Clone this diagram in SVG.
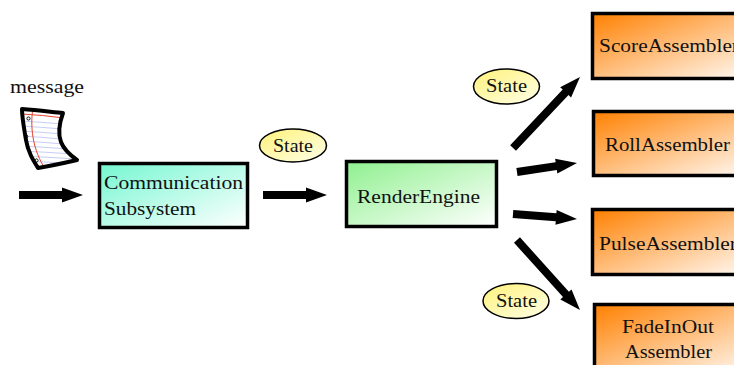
<svg xmlns="http://www.w3.org/2000/svg" width="734" height="365" viewBox="0 0 734 365">
  <defs>
    <linearGradient id="gAqua" x1="0" y1="0" x2="1" y2="1">
      <stop offset="0" stop-color="#74f7d0"/>
      <stop offset="1" stop-color="#ffffff"/>
    </linearGradient>
    <linearGradient id="gGreen" x1="0" y1="0" x2="1" y2="1">
      <stop offset="0" stop-color="#8ff08f"/>
      <stop offset="1" stop-color="#ffffff"/>
    </linearGradient>
    <linearGradient id="gOrange" x1="0" y1="0" x2="1" y2="1">
      <stop offset="0" stop-color="#ff8000"/>
      <stop offset="1" stop-color="#ffffff"/>
    </linearGradient>
    <linearGradient id="gYellow" x1="0" y1="0" x2="1" y2="1">
      <stop offset="0" stop-color="#fff27a"/>
      <stop offset="1" stop-color="#ffffe8"/>
    </linearGradient>
    <clipPath id="paperClip">
      <path d="M22,109 C38,110 52,112 63,113 C59,124 58,134 61,142 C64,150 70,155 77,160 C64,163 50,166 38,168 C33,160 28,152 26,140 C24,128 22,118 22,109 Z"/>
    </clipPath>
  </defs>
  <style>
    .box { stroke: #000; stroke-width: 3.5; }
    .lbl { font-family: "Liberation Serif", "DejaVu Serif", serif; font-size: 19px; fill: #111; }
    .state { fill: url(#gYellow); stroke: #000; stroke-width: 1.5; }
    .arrow { fill: #000; }
  </style>

  <!-- message icon -->
  <g id="message">
    <text class="lbl" x="10" y="93" textLength="74" lengthAdjust="spacingAndGlyphs">message</text>
    <path d="M22,109 C38,110 52,112 63,113 C59,124 58,134 61,142 C64,150 70,155 77,160 C64,163 50,166 38,168 C33,160 28,152 26,140 C24,128 22,118 22,109 Z" fill="#ffffff"/>
    <g clip-path="url(#paperClip)" fill="none">
      <g stroke="#b8bff0" stroke-width="0.8">
        <path d="M20,121 Q40,122 62,124"/>
        <path d="M20,126 Q40,127 62,129"/>
        <path d="M20,131 Q40,132 62,134"/>
        <path d="M20,136 Q40,137 62,139"/>
        <path d="M20,141 Q42,142 64,144"/>
        <path d="M20,146 Q44,147 68,149"/>
        <path d="M20,151 Q46,152 72,154"/>
        <path d="M20,156 Q48,157 76,159"/>
        <path d="M20,161 Q48,162 78,164"/>
      </g>
      <path d="M33,108 C30,125 32,150 46,170" stroke="#e8402a" stroke-width="1"/>
      <path d="M22,114 Q42,115 64,118" stroke="#e8402a" stroke-width="1"/>
    </g>
    <g fill="#fff" stroke="#000" stroke-width="0.9">
      <circle cx="28.5" cy="118.5" r="1.6"/>
      <circle cx="26.2" cy="136.5" r="1.6"/>
      <circle cx="36.5" cy="160.5" r="1.6"/>
    </g>
    <path d="M22,109 C38,110 52,112 63,113 C59,124 58,134 61,142 C64,150 70,155 77,160 C64,163 50,166 38,168 C33,160 28,152 26,140 C24,128 22,118 22,109 Z" fill="none" stroke="#000" stroke-width="4" stroke-linejoin="round"/>
  </g>

  <!-- connectors: block arrows, tip at the local origin pointing along +x -->
  <g id="connectors">
    <g transform="translate(83,195)">
      <path class="arrow" d="M0,0 L-21,-7.5 L-21,-4 L-64,-4 L-64,4 L-21,4 L-21,7.5 Z"/>
    </g>
    <g transform="translate(327,195)">
      <path class="arrow" d="M0,0 L-21,-7.5 L-21,-4 L-64,-4 L-64,4 L-21,4 L-21,7.5 Z"/>
    </g>
    <g transform="translate(580,77) rotate(-46.7)">
      <path class="arrow" d="M0,0 L-21,-7.5 L-21,-4 L-97.6,-4 L-97.6,4 L-21,4 L-21,7.5 Z"/>
    </g>
    <g transform="translate(577,163) rotate(-8.5)">
      <path class="arrow" d="M0,0 L-21,-7.5 L-21,-4 L-60.7,-4 L-60.7,4 L-21,4 L-21,7.5 Z"/>
    </g>
    <g transform="translate(577,219) rotate(4.5)">
      <path class="arrow" d="M0,0 L-21,-7.5 L-21,-4 L-64.2,-4 L-64.2,4 L-21,4 L-21,7.5 Z"/>
    </g>
    <g transform="translate(580,310) rotate(48)">
      <path class="arrow" d="M0,0 L-21,-7.5 L-21,-4 L-94.2,-4 L-94.2,4 L-21,4 L-21,7.5 Z"/>
    </g>
  </g>

  <!-- state labels -->
  <g id="state1">
    <ellipse class="state" cx="293" cy="145.5" rx="33.5" ry="16.5"/>
    <text class="lbl" x="273" y="152" textLength="40" lengthAdjust="spacingAndGlyphs">State</text>
  </g>
  <g id="state2">
    <ellipse class="state" cx="506.5" cy="86.5" rx="33" ry="17.5"/>
    <text class="lbl" x="486" y="92" textLength="41" lengthAdjust="spacingAndGlyphs">State</text>
  </g>
  <g id="state3">
    <ellipse class="state" cx="516" cy="301" rx="33" ry="17.5"/>
    <text class="lbl" x="496" y="307" textLength="41" lengthAdjust="spacingAndGlyphs">State</text>
  </g>

  <!-- processing nodes -->
  <g id="communication">
    <rect class="box" x="99.5" y="163.5" width="148" height="64" fill="url(#gAqua)"/>
    <text class="lbl" x="104" y="189" textLength="139" lengthAdjust="spacingAndGlyphs">Communication</text>
    <text class="lbl" x="104" y="215" textLength="92" lengthAdjust="spacingAndGlyphs">Subsystem</text>
  </g>
  <g id="renderEngine">
    <rect class="box" x="346.5" y="161.5" width="150" height="65" fill="url(#gGreen)"/>
    <text class="lbl" x="357" y="203" textLength="123" lengthAdjust="spacingAndGlyphs">RenderEngine</text>
  </g>
  <g id="scoreAssembler">
    <rect class="box" x="592.5" y="13.5" width="170" height="65" fill="url(#gOrange)"/>
    <text class="lbl" x="599" y="52" textLength="140" lengthAdjust="spacingAndGlyphs">ScoreAssembler</text>
  </g>
  <g id="rollAssembler">
    <rect class="box" x="593.5" y="111.5" width="170" height="64" fill="url(#gOrange)"/>
    <text class="lbl" x="605" y="151" textLength="125" lengthAdjust="spacingAndGlyphs">RollAssembler</text>
  </g>
  <g id="pulseAssembler">
    <rect class="box" x="592.5" y="209.5" width="170" height="65" fill="url(#gOrange)"/>
    <text class="lbl" x="599" y="250" textLength="138" lengthAdjust="spacingAndGlyphs">PulseAssembler</text>
  </g>
  <g id="fadeInOutAssembler">
    <rect class="box" x="594.5" y="304.5" width="170" height="70" fill="url(#gOrange)"/>
    <text class="lbl" x="622" y="333" textLength="92" lengthAdjust="spacingAndGlyphs">FadeInOut</text>
    <text class="lbl" x="625" y="358" textLength="87" lengthAdjust="spacingAndGlyphs">Assembler</text>
  </g>
</svg>
